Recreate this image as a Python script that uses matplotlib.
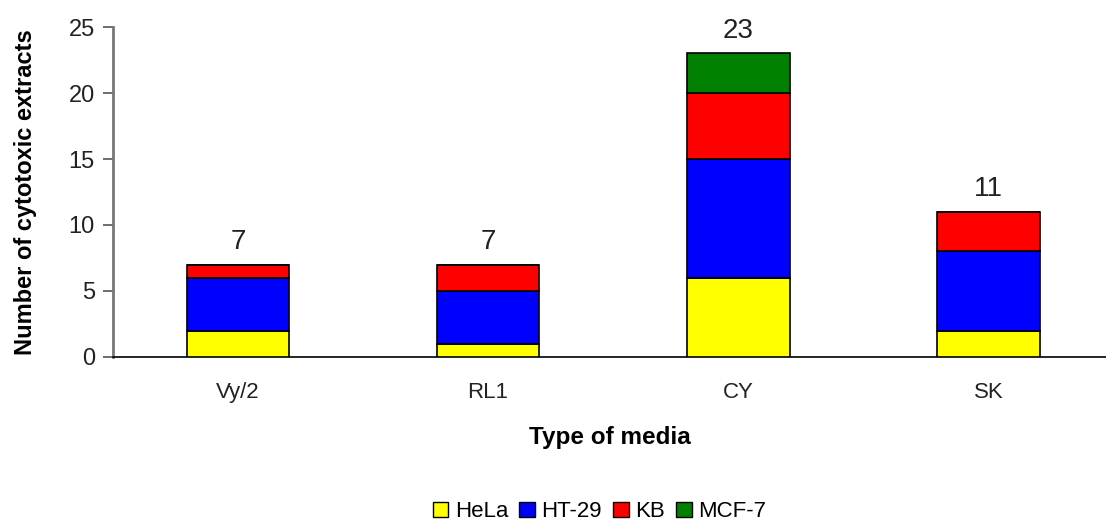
import numpy as np
import matplotlib.pyplot as plt
import matplotlib.patches as mpatches

plt.rcParams['font.family'] = ['Liberation Sans', 'DejaVu Sans']

# data
media = ['Vy/2', 'RL1', 'CY', 'SK']
cell_lines = ['HeLa', 'HT-29', 'KB', 'MCF-7']
hela = [2, 1, 6, 2]
ht29 = [4, 4, 9, 6]
kb = [1, 2, 5, 3]
mcf7 = [0, 0, 3, 0]
colors = ['#ffff00', '#0000ff', '#ff0000', '#007f00']

series = [hela, ht29, kb, mcf7]
totals = np.sum(series, axis=0)

fig = plt.figure(figsize=(11.06, 5.21), dpi=100)
ax = fig.add_axes([0.102, 0.315, 0.898, 0.633])

x = np.arange(len(media))
bottom = np.zeros(len(media))
for vals, col in zip(series, colors):
    vals = np.array(vals, dtype=float)
    ax.bar(x, vals, width=0.41, bottom=bottom, color=col,
           edgecolor='black', linewidth=1.2, zorder=3)
    bottom += vals

for xi, t in zip(x, totals):
    ax.text(xi, t + 0.75, str(t), ha='center', va='bottom', fontsize=20, color='#222222')

ax.set_xlim(-0.5, 3.47)
ax.set_ylim(0, 25)
ax.set_yticks([0, 5, 10, 15, 20, 25])
ax.set_xticks(x)
ax.set_xticklabels(media)
ax.tick_params(axis='y', labelsize=17, length=7, width=1.2, colors='#555555',
               labelcolor='#222222', pad=6)
ax.tick_params(axis='x', labelsize=16, length=0, labelcolor='#222222', pad=18)

for s in ['top', 'right']:
    ax.spines[s].set_visible(False)
ax.spines['left'].set_color('#777777')
ax.spines['left'].set_linewidth(2)
ax.spines['bottom'].set_color('black')
ax.spines['bottom'].set_linewidth(1.2)

ax.set_ylabel('Number of cytotoxic extracts', fontsize=17, fontweight='bold', labelpad=23)
ax.set_xlabel('Type of media', fontsize=17.5, fontweight='bold', labelpad=17)

handles = [mpatches.Patch(facecolor=c, edgecolor='black', linewidth=1, label=l)
           for l, c in zip(cell_lines, colors)]
fig.legend(handles=handles, loc='center', bbox_to_anchor=(0.542, 0.018), ncol=4,
           frameon=False, fontsize=16, handlelength=0.7, handleheight=0.7,
           handletextpad=0.3, columnspacing=0.5, borderaxespad=0)

fig.savefig('out.png', dpi=100)
